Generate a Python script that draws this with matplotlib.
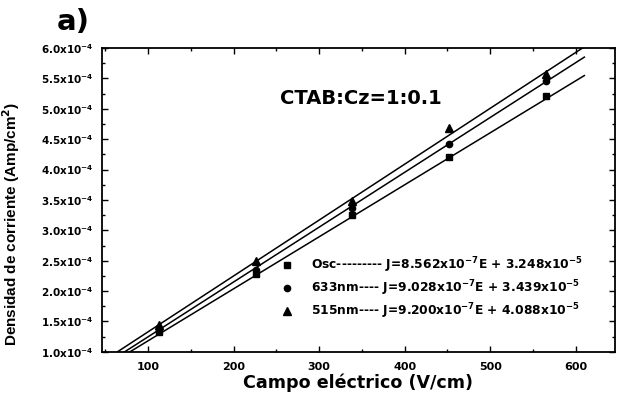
import numpy as np
import matplotlib.pyplot as plt
from matplotlib.ticker import MultipleLocator, FuncFormatter

plt.switch_backend('Agg')
plt.rcParams['font.family'] = ['DejaVu Sans']
plt.rcParams['font.weight'] = 'bold'
plt.rcParams['mathtext.default'] = 'bf'

# datos
campo = [113, 226, 339, 452, 565]
j_osc = [1.33e-4, 2.28e-4, 3.25e-4, 4.21e-4, 5.21e-4]
j_633 = [1.36e-4, 2.35e-4, 3.36e-4, 4.42e-4, 5.46e-4]
j_515 = [1.44e-4, 2.49e-4, 3.49e-4, 4.68e-4, 5.57e-4]

# ajustes lineales (pendiente, ordenada)
pend = [8.562e-7, 9.028e-7, 9.200e-7]
ord0 = [3.248e-5, 3.439e-5, 4.088e-5]
etiquetas = ["Osc--------- J=8.562x10$^{-7}$E + 3.248x10$^{-5}$",
             "633nm---- J=9.028x10$^{-7}$E + 3.439x10$^{-5}$",
             "515nm---- J=9.200x10$^{-7}$E + 4.088x10$^{-5}$"]
rango_fit = np.array([40, 610])

fig = plt.figure(figsize=(6.17, 3.94), dpi=100)
ax = fig.add_axes([0.165, 0.107, 0.832, 0.771])

for m, b in zip(pend, ord0):
    ax.plot(rango_fit, m * rango_fit + b, color='black', lw=1.1)

ax.plot(campo, j_osc, 's', color='black', ms=5, label=etiquetas[0])
ax.plot(campo, j_633, 'o', color='black', ms=4.5, label=etiquetas[1])
ax.plot(campo, j_515, '^', color='black', ms=6, label=etiquetas[2])

ax.set_xlim(46, 646)
ax.set_ylim(1.0e-4, 6.0e-4)
ax.xaxis.set_major_locator(MultipleLocator(100))
ax.xaxis.set_minor_locator(MultipleLocator(50))
ax.yaxis.set_major_locator(MultipleLocator(0.5e-4))
ax.yaxis.set_minor_locator(MultipleLocator(0.25e-4))
ax.yaxis.set_major_formatter(FuncFormatter(lambda v, p: "%.1fx10$^{-4}$" % (v / 1e-4)))
ax.tick_params(which='both', direction='in', top=True, right=True, width=1)
ax.tick_params(which='major', length=4)
ax.tick_params(which='minor', length=2)
ax.tick_params(axis='x', labelsize=8, pad=7)
ax.tick_params(axis='y', labelsize=7.5, pad=6)
for s in ax.spines.values():
    s.set_linewidth(1.3)

ax.set_xlabel("Campo eléctrico (V/cm)", fontsize=12.6, fontweight='bold', labelpad=1.5)
ax.set_ylabel("Densidad de corriente (Amp/cm$^2$)", fontsize=11, fontweight='bold',
              family='Liberation Sans')
ax.yaxis.set_label_coords(-0.155, 0.42)

ax.text(0.347, 0.835, "CTAB:Cz=1:0.1", transform=ax.transAxes, fontsize=14,
        fontweight='bold', va='center')
fig.text(0.092, 0.945, "a)", fontsize=21, fontweight='bold', va='center')

ax.legend(loc='center left', bbox_to_anchor=(0.336, 0.21), frameon=False,
          fontsize=8.8, handlelength=2, handletextpad=1.0, labelspacing=0.3,
          borderpad=0, borderaxespad=0, numpoints=1)

fig.savefig("out.png", dpi=100)
